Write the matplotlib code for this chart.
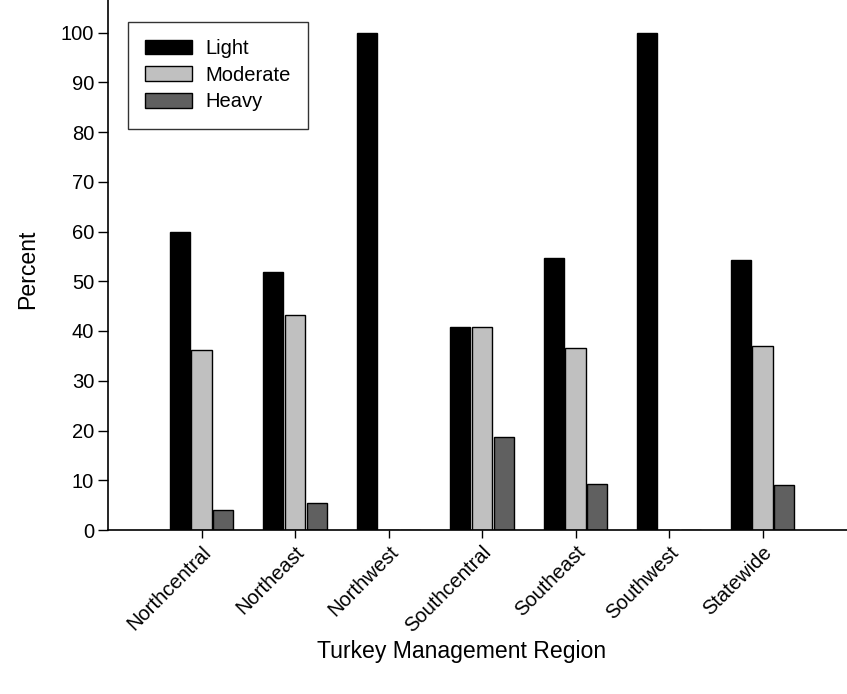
import numpy as np
import matplotlib.pyplot as plt

plt.rcParams['font.family'] = ['Liberation Sans', 'DejaVu Sans']

""" data """
regions = ['Northcentral', 'Northeast', 'Northwest', 'Southcentral',
           'Southeast', 'Southwest', 'Statewide']
light = [60.0, 51.8, 100.0, 40.8, 54.7, 100.0, 54.3]
moderate = [36.1, 43.2, 0.0, 40.8, 36.6, 0.0, 37.0]
heavy = [4.1, 5.4, 0.0, 18.6, 9.2, 0.0, 9.0]

""" figure / axes """
W, H = 847, 694
fig = plt.figure(figsize=(W/100, H/100), dpi=100)
# axes box in pixels: left 108, right 856 (runs past the edge), bottom 530, top 0
ax = fig.add_axes([108/W, (H-530)/H, 748/W, 530/H])

x = np.arange(len(regions))
step = 0.232
width = 0.214
ax.bar(x - step, light, width, color='black', edgecolor='black', linewidth=1, label='Light')
ax.bar(x, moderate, width, color='#c0c0c0', edgecolor='black', linewidth=1, label='Moderate')
ax.bar(x + step, heavy, width, color='#606060', edgecolor='black', linewidth=1, label='Heavy')

ax.set_xlim(-1, 7)
ax.set_ylim(0, 530/4.975)
ax.set_yticks(np.arange(0, 101, 10))
ax.set_xticks(x)
ax.set_xticklabels(regions, rotation=45, ha='right', va='top', rotation_mode='anchor')

for s in ['top', 'right']:
    ax.spines[s].set_visible(False)
for s in ['left', 'bottom']:
    ax.spines[s].set_linewidth(1.2)
ax.tick_params(axis='y', direction='out', length=7, width=1, labelsize=14.5, pad=3)
ax.tick_params(axis='x', direction='out', length=6, width=1, labelsize=14.5, pad=3)

ax.set_ylabel('Percent', fontsize=16.6)
ax.yaxis.set_label_coords(-0.108, 0.4925)
ax.set_xlabel('Turkey Management Region', fontsize=16.6)
ax.xaxis.set_label_coords(0.473, -0.23)
ax.xaxis.label.set_va('center')
ax.yaxis.label.set_va('center')

leg = ax.legend(loc='upper left', bbox_to_anchor=(20/748, 1 - 22/530), fontsize=14.5,
                frameon=True, fancybox=False, edgecolor='black', borderpad=0.85,
                handlelength=2.35, handleheight=0.75, labelspacing=0.38, handletextpad=0.65,
                borderaxespad=0)
leg.get_frame().set_linewidth(1)

fig.savefig('out.png', dpi=100)
